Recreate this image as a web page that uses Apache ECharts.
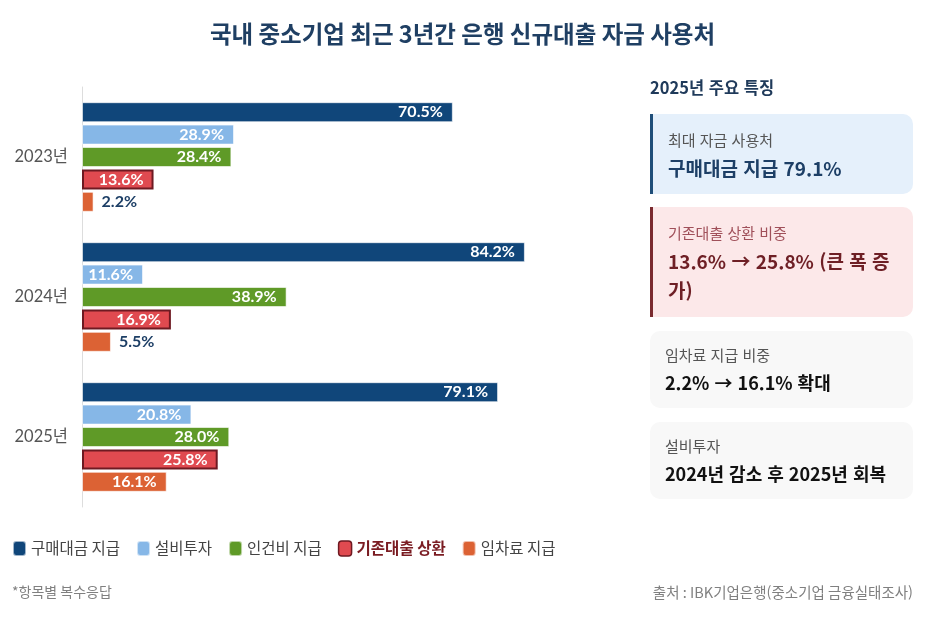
<!DOCTYPE html>
<html lang="ko">
<head>
<meta charset="utf-8">
<script src="https://cdn.jsdelivr.net/npm/echarts@6/dist/echarts.min.js"></script>
<style>
  html, body { margin: 0; padding: 0; background: #fff; }
  body { width: 925px; height: 618px; position: relative; overflow: hidden;
    font-family: "Noto Sans CJK KR", "Noto Sans", sans-serif; }
  #chart { position: absolute; left: 0; top: 0; width: 925px; height: 618px; }
  .head { position: absolute; left: 650px; top: 74px; margin: 0; font-size: 16.5px; font-weight: 700;
    color: #1f3a5a; line-height: 26px; }
  .card { position: absolute; left: 650px; width: 263px; box-sizing: border-box;
    border-radius: 10px; padding: 13px 14px 0 15px; background: #f8f8f8; }
  .card .lab { font-size: 15px; color: #555; line-height: 26px; }
  .card .val { font-size: 18px; font-weight: 700; color: #111; line-height: 29px; margin-top: 0; }
  .c1 { top: 114px; height: 80px; }
  .c2 { top: 207px; height: 110px; }
  .c3 { top: 331px; height: 77px; padding-top: 11px; }
  .c4 { top: 422px; height: 77px; padding-top: 11px; }
  .card.blue { background: #e5f0fb; border-left: 3px solid #1f4e79; border-radius: 0 10px 10px 0; }
  .card.blue .val { color: #1d3f66; font-weight: 600; font-size: 19px; }
  .card.red { background: #fce8e9; border-left: 3px solid #7a2a2f; border-radius: 0 10px 10px 0; }
  .card.red .lab { color: #a0505a; }
  .card.red .val { color: #6e1f25; font-weight: 600; font-size: 19px; }
</style>
</head>
<body>
<div id="chart"></div>
<div class="head">2025년 주요 특징</div>
<div class="card blue c1"><div class="lab">최대 자금 사용처</div><div class="val">구매대금 지급 79.1%</div></div>
<div class="card red c2"><div class="lab">기존대출 상환 비중</div><div class="val">13.6% → 25.8% (큰 폭 증가)</div></div>
<div class="card c3"><div class="lab">임차료 지급 비중</div><div class="val">2.2% → 16.1% 확대</div></div>
<div class="card c4"><div class="lab">설비투자</div><div class="val">2024년 감소 후 2025년 회복</div></div>
<script>
const years = ["2023년", "2024년", "2025년"];
const seriesNames = ["구매대금 지급", "설비투자", "인건비 지급", "기존대출 상환", "임차료 지급"];
const purchase = [70.5, 84.2, 79.1];
const equipment = [28.9, 11.6, 20.8];
const labor = [28.4, 38.9, 28.0];
const repayment = [13.6, 16.9, 25.8];
const rent = [2.2, 5.5, 16.1];
const colors = ["#10467a", "#86b7e7", "#5f9a27", "#e04a50", "#dc6234"];

const font = "Lato, 'Noto Sans CJK KR', sans-serif";
const krFont = "'Noto Sans CJK KR', sans-serif";

// small values don't fit inside the bar, put them on the right
function barData(values) {
  return values.map((v) =>
    v < 8
      ? { value: v, label: { position: "right", color: "#1d3f66", distance: 8 } }
      : v
  );
}

function barSeries(name, values, i) {
  const highlight = i === 3;
  return {
    name,
    type: "bar",
    data: barData(values),
    barWidth: 20,
    barGap: "12%",
    itemStyle: {
      color: colors[i],
      borderColor: highlight ? "#6e1a22" : "rgba(255,255,255,0.6)",
      borderWidth: highlight ? 2 : 1,
    },
    label: {
      show: true,
      position: "insideRight",
      distance: 10,
      color: "#fff",
      fontFamily: font,
      fontWeight: "bold",
      fontSize: 16,
      formatter: (p) => p.value.toFixed(1) + "%",
    },
  };
}

const chart = echarts.init(document.getElementById("chart"));
chart.setOption({
  animation: false,
  title: {
    text: "국내 중소기업 최근 3년간 은행 신규대출 자금 사용처",
    left: "center",
    top: 17,
    textStyle: { fontFamily: krFont, fontSize: 23.5, fontWeight: "bold", color: "#1f3f63" },
  },
  legend: {
    left: 12,
    top: 540,
    padding: 0,
    icon: "roundRect",
    itemWidth: 13,
    itemHeight: 15,
    itemGap: 16,
    textStyle: { fontFamily: krFont, fontSize: 15.5, color: "#444" },
    data: seriesNames.map((n, i) =>
      i === 3
        ? { name: n, itemStyle: { borderColor: "#6e1a22", borderWidth: 1.5 },
            textStyle: { color: "#7a1c22", fontWeight: "bold" } }
        : { name: n }
    ),
  },
  grid: { left: 82, top: 87, width: 526, height: 420, containLabel: false },
  xAxis: {
    type: "value",
    min: 0,
    max: 100,
    show: false,
  },
  yAxis: {
    type: "category",
    data: years,
    inverse: true,
    axisLine: { lineStyle: { color: "#dddddd" } },
    axisTick: { show: false },
    axisLabel: { color: "#555", fontFamily: font, fontSize: 16.5, margin: 14 },
  },
  graphic: [
    { type: "text", left: 12, top: 585,
      style: { text: "*항목별 복수응답", fill: "#808080", fontSize: 14, fontFamily: krFont } },
    { type: "text", right: 12, top: 585,
      style: { text: "출처 : IBK기업은행(중소기업 금융실태조사)", fill: "#808080", fontSize: 14.5, fontFamily: krFont } },
  ],
  series: [purchase, equipment, labor, repayment, rent].map((v, i) => barSeries(seriesNames[i], v, i)),
});
</script>
</body>
</html>
